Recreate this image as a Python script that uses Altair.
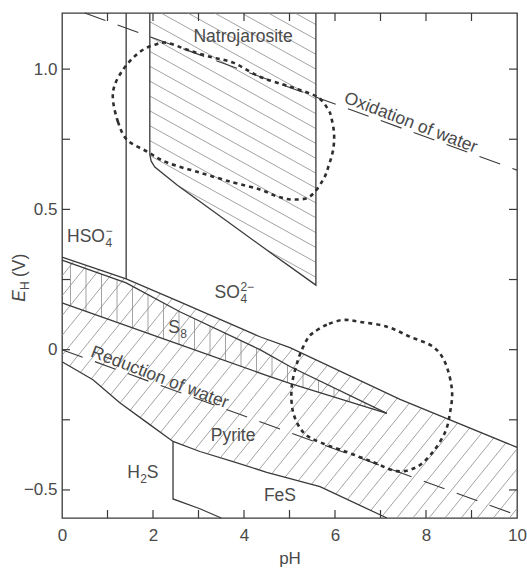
import altair as alt
import numpy as np
import pandas as pd

# ---------------- plot geometry ----------------
W, H = 455, 505
X0, X1 = 0.0, 10.0
Y0, Y1 = -0.6, 1.2

# ---------------- boundary data (pH, E_H) ----------------
L1_PH = [0, 1.41, 2.59, 4.35, 5.01, 7.43, 10]
L1_E = [0.33, 0.252, 0.17, 0.046, 0.007, -0.177, -0.348]
L2_PH = [0, 1.41, 2.59, 4.35, 5.01, 7.14]
L2_E = [0.319, 0.238, 0.135, 0.0, -0.06, -0.227]
L3_PH = [0, 2.59, 4.57, 5.01, 7.14]
L3_E = [0.167, 0.018, -0.096, -0.12, -0.227]
L4_PH = [0, 0.68, 1.27, 1.87, 2.44, 3.03, 3.76, 4.5, 5.67, 7.14]
L4_E = [-0.043, -0.107, -0.189, -0.26, -0.327, -0.363, -0.399, -0.437, -0.488, -0.6]
L5_PH = [2.44, 2.44, 3.03, 3.5]
L5_E = [-0.327, -0.532, -0.567, -0.6]
HSO4_PH = [1.41, 1.41]
HSO4_E = [1.2, 0.252]
NATRO_PH = [1.93, 1.93, 1.96, 2.04, 2.53, 4.57, 5.58, 5.58]
NATRO_E = [1.2, 0.695, 0.672, 0.651, 0.587, 0.347, 0.23, 1.2]

OX_PH = [0.5, 10]
OX_E = [1.2, 0.64]
RED_PH = [0, 10]
RED_E = [0, -0.59]

CA_PH = [1.43, 1.23, 1.12, 1.16, 1.34, 1.56, 1.78, 2.04, 2.31, 2.75, 3.25, 3.76, 4.35, 5.01, 5.60,
         5.85, 5.93, 5.98, 5.96, 5.87, 5.74, 5.45, 5.08, 4.73, 4.35, 3.76, 3.03, 2.31, 1.87]
CA_E = [0.748, 0.812, 0.891, 0.944, 0.998, 1.040, 1.069, 1.087, 1.094, 1.069, 1.044, 1.023, 0.973, 0.937, 0.902,
        0.856, 0.820, 0.767, 0.713, 0.660, 0.606, 0.546, 0.535, 0.546, 0.571, 0.596, 0.631, 0.667, 0.706]
CB_PH = [6.18, 5.82, 5.52, 5.38, 5.19, 5.05, 5.08, 5.30, 5.67, 6.26, 6.84, 7.36, 7.80, 8.15, 8.42,
         8.53, 8.57, 8.42, 8.15, 7.65, 7.14, 6.55]
CB_E = [0.106, 0.089, 0.060, 0.035, -0.035, -0.131, -0.223, -0.294, -0.330, -0.365, -0.401, -0.433, -0.418,
        -0.365, -0.294, -0.223, -0.142, -0.046, 0.011, 0.046, 0.082, 0.099]

X_TICKS = [1, 2, 3, 4, 5, 6, 7, 8, 9]
Y_TICKS = [-0.5, -0.25, 0, 0.25, 0.5, 0.75, 1.0]
X_LABELS = [0, 2, 4, 6, 8, 10]
Y_LABELS = [-0.5, 0, 0.5, 1.0]

TXT = "#4a4a4a"
LINE = "#3a3a3a"
HATCH = "#8c8c8c"
FONT = "Liberation Sans"

# ---------------- helpers ----------------
def to_px(ph, e):
    return (np.asarray(ph, float) - X0) * W / (X1 - X0), (Y1 - np.asarray(e, float)) * H / (Y1 - Y0)


def from_px(px, py):
    return X0 + px * (X1 - X0) / W, Y1 - py * (Y1 - Y0) / H


def hatch(ph, e, angle, spacing, phase):
    px, py = to_px(ph, e)
    P = np.column_stack([px, py])
    a = np.radians(angle)
    d = np.array([np.cos(a), np.sin(a)])
    n = np.array([-d[1], d[0]])
    s = P @ n
    c = np.floor((s.min() - phase) / spacing) * spacing + phase
    rows = []
    m = len(P)
    while c <= s.max():
        hits = []
        for i in range(m):
            A, B = P[i], P[(i + 1) % m]
            sa, sb = A @ n - c, B @ n - c
            if (sa < 0) != (sb < 0):
                hits.append(A + (B - A) * (sa / (sa - sb)))
        hits.sort(key=lambda q: q @ d)
        for j in range(0, len(hits) - 1, 2):
            a1, b1 = from_px(*hits[j])
            a2, b2 = from_px(*hits[j + 1])
            rows.append(dict(ph=a1, e=b1, ph2=a2, e2=b2))
        c += spacing
    return rows


def path_df(named):
    rows = []
    for name, (phs, es) in named.items():
        for k, (p, v) in enumerate(zip(phs, es)):
            rows.append(dict(id=name, k=k, ph=p, e=v))
    return pd.DataFrame(rows)


# ---------------- hatch regions ----------------
pyr_ph = L1_PH + [10] + L4_PH[::-1]
pyr_e = L1_E + [-0.6] + L4_E[::-1]
s8_ph = L2_PH + L3_PH[::-1][1:]
s8_e = L2_E + L3_E[::-1][1:]

hatch_rows = (hatch(pyr_ph, pyr_e, -51, 12.5, 3.0)
              + hatch(s8_ph, s8_e, 90, 15.5, 7.0)
              + hatch(NATRO_PH, NATRO_E, 29, 13.0, 4.0))
hatch_df = pd.DataFrame(hatch_rows)

bounds_df = path_df({
    "l1": (L1_PH, L1_E), "l2": (L2_PH, L2_E), "l3": (L3_PH, L3_E), "l4": (L4_PH, L4_E),
    "l5": (L5_PH, L5_E), "hso4": (HSO4_PH, HSO4_E), "natro": (NATRO_PH, NATRO_E),
})
water_df = path_df({"ox": (OX_PH, OX_E), "red": (RED_PH, RED_E)})
curves_df = path_df({"a": (CA_PH, CA_E), "b": (CB_PH, CB_E)})

xs = alt.Scale(domain=[X0, X1], nice=False, zero=False)
ys = alt.Scale(domain=[Y0, Y1], nice=False, zero=False)

X_AXIS = alt.Axis(values=X_LABELS, tickSize=0, domain=False, grid=False, labelFont=FONT,
                  labelFontSize=17, labelColor=TXT, labelPadding=9, labelFlush=False,
                  title="pH", titleFont=FONT, titleFontSize=17, titleFontWeight="normal",
                  titleColor=TXT, titlePadding=7)
Y_AXIS = alt.Axis(values=Y_LABELS, tickSize=0, domain=False, grid=False, labelFont=FONT,
                  labelFontSize=17, labelColor=TXT, labelPadding=5, labelFlush=False, title="",
                  labelExpr="datum.value == 0 ? '0' : replace(format(datum.value, '.1f'), '-', '\u2212')")


def XE(field="ph"):
    return alt.X(f"{field}:Q", scale=xs, axis=X_AXIS)


def YE(field="e"):
    return alt.Y(f"{field}:Q", scale=ys, axis=Y_AXIS)


# ---------------- layers ----------------
hatch_layer = alt.Chart(hatch_df).mark_rule(color=HATCH, strokeWidth=0.8).encode(
    x=XE(), x2="ph2:Q", y=YE(), y2="e2:Q")

bounds_layer = alt.Chart(bounds_df).mark_line(color=LINE, strokeWidth=1.3).encode(
    x=XE(), y=YE(), detail="id:N", order="k:Q")

water_layer = alt.Chart(water_df).mark_line(color=LINE, strokeWidth=1.1, strokeDash=[22, 13]).encode(
    x=XE(), y=YE(), detail="id:N", order="k:Q")

curve_layer = alt.Chart(curves_df).mark_line(color="#2e2e2e", strokeWidth=2.6, strokeDash=[4, 4],
                                              interpolate="cardinal-closed").encode(
    x=XE(), y=YE(), detail="id:N", order="k:Q")

xt_df = pd.DataFrame({"ph": X_TICKS})
yt_df = pd.DataFrame({"e": Y_TICKS})
tick_b = alt.Chart(xt_df).mark_rule(color=LINE, strokeWidth=1.2).encode(
    x=XE(), y=alt.value(H), y2=alt.value(H - 8))
tick_t = alt.Chart(xt_df).mark_rule(color=LINE, strokeWidth=1.2).encode(
    x=XE(), y=alt.value(0), y2=alt.value(8))
tick_l = alt.Chart(yt_df).mark_rule(color=LINE, strokeWidth=1.2).encode(
    y=YE(), x=alt.value(0), x2=alt.value(8))
tick_r = alt.Chart(yt_df).mark_rule(color=LINE, strokeWidth=1.2).encode(
    y=YE(), x=alt.value(W), x2=alt.value(W - 8))


def text_layer(rows, size=17.5, align="center", baseline="middle", dx=0, dy=0, angle=0, style="normal"):
    df = pd.DataFrame(rows, columns=["t", "ph", "e"])
    kw = dict(font=FONT, fontSize=size, color=TXT, align=align, baseline=baseline, dx=dx, dy=dy,
              fontStyle=style)
    if angle:
        kw["angle"] = angle
    return alt.Chart(df).mark_text(**kw).encode(x=XE(), y=YE(), text="t:N")


CENTER_LABELS = [("Natrojarosite", 3.98, 1.115), ("Pyrite", 3.76, -0.306), ("FeS", 4.79, -0.523)]
MAIN_LABELS = [("HSO", 0.945, 0.40), ("SO", 3.91, 0.203), ("S", 2.59, 0.078), ("H", 1.71, -0.44)]
SUB_LABELS = [("4", 0.945, 0.40), ("4", 3.91, 0.203), ("8", 2.59, 0.078), ("2", 1.71, -0.44)]
SUP_LABELS = [("\u2212", 0.945, 0.40), ("2\u2212", 3.91, 0.203)]
TAIL_LABELS = [("S", 1.71, -0.44)]
OX_LABEL = [("Oxidation of water", 7.6, 0.782)]
RED_LABEL = [("Reduction of water", 2.09, -0.123)]

labels = [
    text_layer(CENTER_LABELS),
    text_layer(MAIN_LABELS, align="right"),
    text_layer(SUB_LABELS, size=12, align="left", dx=0.5, dy=6),
    text_layer(SUP_LABELS, size=12, align="left", dx=0.5, dy=-6),
    text_layer(TAIL_LABELS, align="left", dx=7),
    text_layer(OX_LABEL, align="center", baseline="alphabetic", dy=-3, angle=21),
    text_layer(RED_LABEL, align="center", baseline="alphabetic", dy=-2, angle=21),
]

ytitle_E = alt.Chart(pd.DataFrame({"t": ["E"]})).mark_text(
    font=FONT, fontSize=17.5, color=TXT, fontStyle="italic", align="right", baseline="middle",
    angle=270).encode(x=alt.value(-42), y=alt.value(277), text="t:N")
ytitle_H = alt.Chart(pd.DataFrame({"t": ["H"]})).mark_text(
    font=FONT, fontSize=12, color=TXT, align="left", baseline="middle", angle=270, dy=5).encode(
    x=alt.value(-42), y=alt.value(277), text="t:N")
ytitle_V = alt.Chart(pd.DataFrame({"t": ["(V)"]})).mark_text(
    font=FONT, fontSize=17.5, color=TXT, align="left", baseline="middle", angle=270, dx=13).encode(
    x=alt.value(-42), y=alt.value(277), text="t:N")

chart = alt.layer(
    hatch_layer, bounds_layer, water_layer, curve_layer,
    tick_b, tick_t, tick_l, tick_r,
    *labels, ytitle_E, ytitle_H, ytitle_V,
).properties(
    width=W, height=H,
    padding={"left": 62, "top": 13, "right": 10, "bottom": 54},
    autosize=alt.AutoSizeParams(type="none"),
    background="white",
).configure_view(stroke=LINE, strokeWidth=1.3)

chart.save("out.html", embed_options={"renderer": "svg", "actions": False})
